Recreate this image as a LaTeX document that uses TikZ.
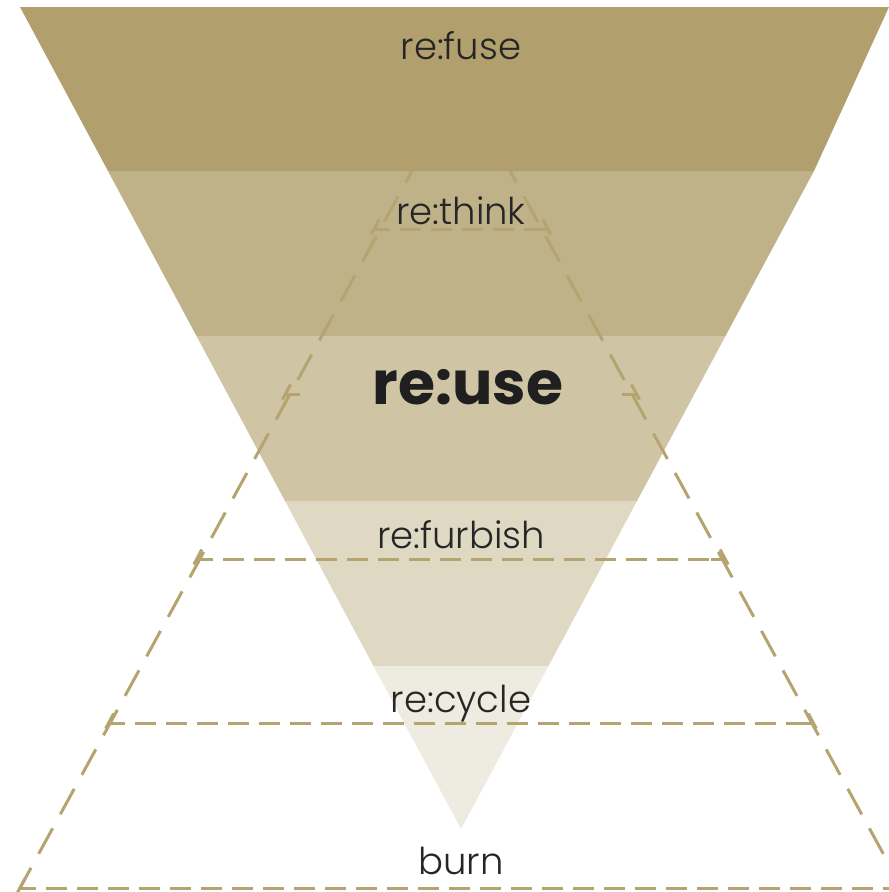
\documentclass[tikz,border=0pt]{standalone}
\usepackage{fontspec}
\setmainfont{Poppins Light}
\newfontfamily\boldfam{Poppins Bold}
\begin{document}
\begin{tikzpicture}[x=1pt,y=-1pt,
  lbl/.style={font=\fontsize{37}{37}\selectfont, text=black!85, inner sep=0pt, anchor=base},
  bigl/.style={font=\boldfam\fontsize{60}{60}\selectfont, text=black!88, inner sep=0pt, anchor=base},
  dsh/.style={draw=dashcol, line width=3pt, dash pattern=on 21pt off 10pt},
  sidedsh/.style={draw=dashcol, line width=3pt, dash pattern=on 29pt off 16pt},
  tick/.style={draw=dashcol, line width=3pt}]
\definecolor{b1}{HTML}{B19F6D}
\definecolor{b2}{HTML}{BFB289}
\definecolor{b3}{HTML}{CFC5A5}
\definecolor{b4}{HTML}{DFD9C3}
\definecolor{b5}{HTML}{EEEBE0}
\definecolor{dashcol}{HTML}{B5A46F}
\useasboundingbox (0,0) rectangle (889,892);
% inverted triangle bands
\fill[b2] (108.0,171) -- (814.0,171) -- (725.5,336) -- (196.5,336) -- cycle;
\fill[b3] (196.5,336) -- (725.5,336) -- (637.0,501) -- (285.0,501) -- cycle;
\fill[b4] (285.0,501) -- (637.0,501) -- (548.5,666) -- (373.5,666) -- cycle;
\fill[b5] (373.5,666) -- (548.5,666) -- (461,829) -- cycle;
% dashed pyramid (apex hidden behind top band)
\coordinate (L0) at (20,888);
\coordinate (R0) at (902,888);
\coordinate (Lt) at (412,171);
\coordinate (Rt) at (510,171);
\draw[sidedsh, dash phase=6pt] (L0) -- (Lt);
\draw[sidedsh, dash phase=6pt] (R0) -- (Rt);
\foreach \y in {888, 723, 559, 394, 229} {
  \pgfmathsetmacro{\xl}{20+0.5375*(888-\y)}
  \pgfmathsetmacro{\xr}{902-0.5375*(888-\y)}
  \draw[tick] (\xl-3,\y+5.5) -- (\xl+5,\y-9.5);
  \draw[tick] (\xr+3,\y+5.5) -- (\xr-5,\y-9.5);
  \draw[tick] (\xl,\y) -- ++(14,0);
  \draw[tick] (\xr,\y) -- ++(-14,0);
}
\foreach \y in {888, 723, 559, 229} {
  \pgfmathsetmacro{\xl}{20+0.5375*(888-\y)+14}
  \pgfmathsetmacro{\xr}{902-0.5375*(888-\y)-14}
  \draw[dsh, dash phase=-12pt] (\xl,\y) -- (\xr,\y);
}
% top band drawn over the pyramid apex
\fill[b1] (20,7) -- (889,7) -- (814.0,171) -- (108.0,171) -- cycle;
% labels
\node[lbl] (fuse) at (461,59) {re:fuse};
\node[lbl] (think) at (461,224) {re:think};
\node[bigl] (use) at (468,404) {re:use};
\node[lbl] (furbish) at (461,548) {re:furbish};
\node[lbl] (cycle) at (461,712) {re:cycle};
\node[lbl] (burn) at (461,874) {burn};
\end{tikzpicture}
\end{document}
